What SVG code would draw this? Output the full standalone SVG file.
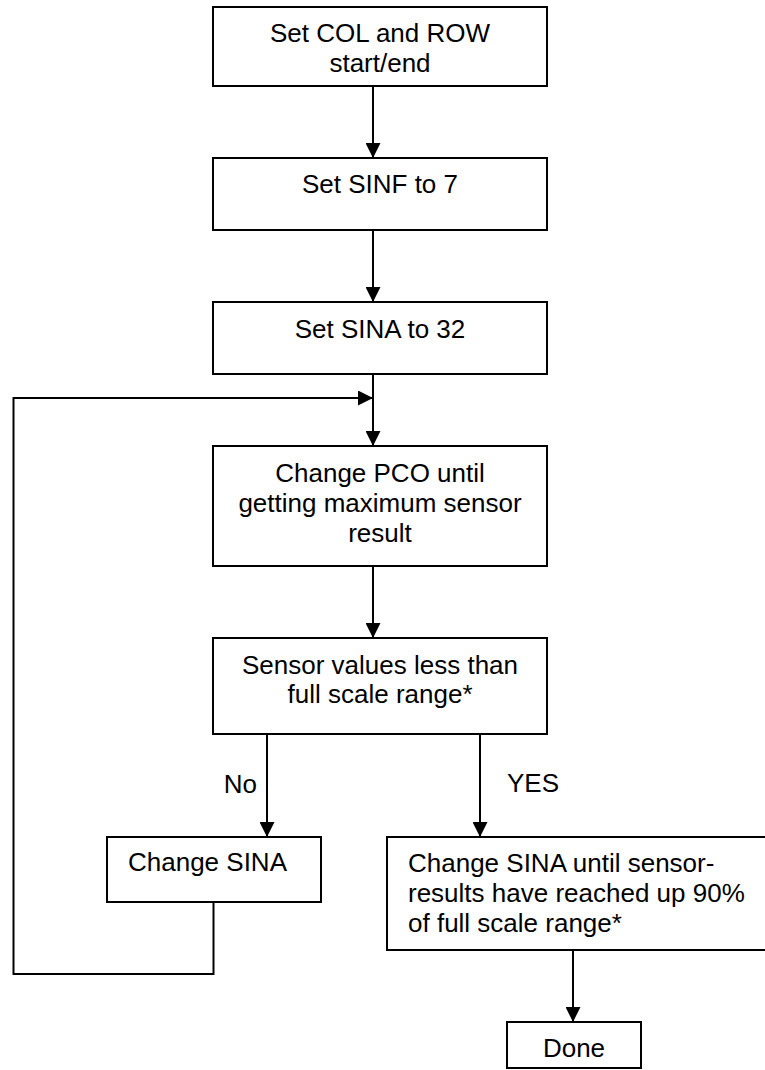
<svg xmlns="http://www.w3.org/2000/svg" width="765" height="1070" viewBox="0 0 765 1070">
<style>
.box{fill:#fff;stroke:#000;stroke-width:2}
.t{font-family:"Liberation Sans",Arial,sans-serif;font-size:26px;fill:#000}
.c{text-anchor:middle}
.ln{fill:none;stroke:#000;stroke-width:2;marker-end:url(#ah)}
.pl{fill:none;stroke:#000;stroke-width:2}
</style>
<defs>
<marker id="ah" markerUnits="userSpaceOnUse" markerWidth="15" markerHeight="15" refX="15" refY="7.5" orient="auto">
<path d="M0,0 L15,7.5 L0,15 z" fill="#000"/>
</marker>
</defs>
<rect width="765" height="1070" fill="#fff"/>
<g id="connectors">
<line class="ln" x1="373" y1="86" x2="373" y2="158"/>
<line class="ln" x1="373" y1="230" x2="373" y2="302"/>
<line class="ln" x1="373" y1="374" x2="373" y2="446"/>
<line class="ln" x1="373" y1="566" x2="373" y2="638"/>
<line class="ln" x1="267" y1="734" x2="267" y2="837"/>
<line class="ln" x1="480" y1="734" x2="480" y2="837"/>
<line class="ln" x1="573" y1="950" x2="573" y2="1022"/>
<polyline class="ln" points="213.5,902 213.5,974 13.5,974 13.5,398 373,398"/>
<text class="t" x="257" y="793" text-anchor="end">No</text>
<text class="t" x="507" y="792">YES</text>
</g>
<g id="n1">
<rect class="box" x="213" y="7" width="334" height="79"/>
<text class="t c" x="380" y="42">Set COL and ROW</text>
<text class="t c" x="380" y="72">start/end</text>
</g>
<g id="n2">
<rect class="box" x="213" y="158" width="334" height="72"/>
<text class="t c" x="380" y="193">Set SINF to 7</text>
</g>
<g id="n3">
<rect class="box" x="213" y="302" width="334" height="72"/>
<text class="t c" x="380" y="338">Set SINA to 32</text>
</g>
<g id="n4">
<rect class="box" x="213" y="446" width="334" height="120"/>
<text class="t c" x="380" y="482">Change PCO until</text>
<text class="t c" x="380" y="512">getting maximum sensor</text>
<text class="t c" x="380" y="542">result</text>
</g>
<g id="n5">
<rect class="box" x="213" y="638" width="334" height="96"/>
<text class="t c" x="380" y="674">Sensor values less than</text>
<text class="t c" x="380" y="703">full scale range*</text>
</g>
<g id="n6">
<rect class="box" x="107" y="837" width="214" height="65"/>
<text class="t" x="128" y="871">Change SINA</text>
</g>
<g id="n7">
<rect class="box" x="387" y="837" width="390" height="113"/>
<text class="t" x="408" y="872">Change SINA until sensor-</text>
<text class="t" x="408" y="902">results have reached up 90%</text>
<text class="t" x="408" y="932">of full scale range*</text>
</g>
<g id="n8">
<rect class="box" x="507" y="1022" width="134" height="46"/>
<text class="t c" x="574" y="1057">Done</text>
</g>
</svg>
